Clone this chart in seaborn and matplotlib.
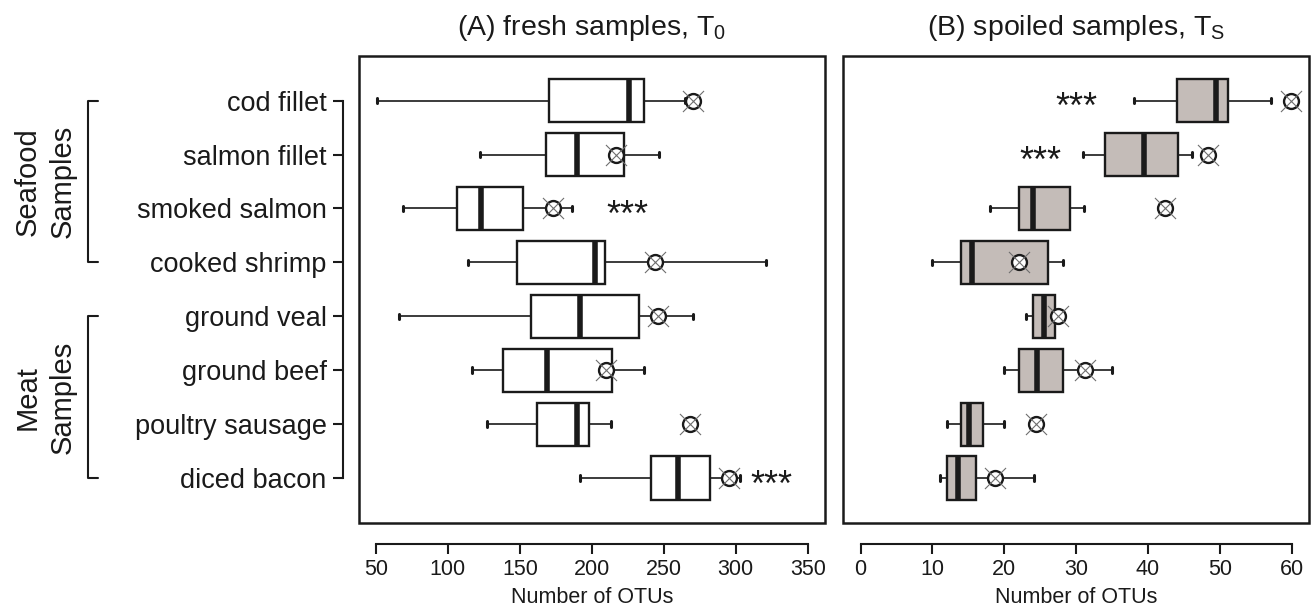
import numpy as np
import pandas as pd
import matplotlib
matplotlib.use("Agg")
import matplotlib.pyplot as plt
import matplotlib.transforms as mtransforms
from matplotlib.patches import Rectangle
import seaborn as sns

sns.set_theme(style="ticks")
plt.rcParams["font.family"] = ["Liberation Sans", "DejaVu Sans"]
plt.rcParams["mathtext.fontset"] = "custom"
plt.rcParams["mathtext.rm"] = "Liberation Sans"
plt.rcParams["mathtext.it"] = "Liberation Sans:italic"

# sample types, top to bottom
categories = ["cod fillet", "salmon fillet", "smoked salmon", "cooked shrimp",
              "ground veal", "ground beef", "poultry sausage", "diced bacon"]

# (A) fresh samples, T0 -- number of OTUs
fresh_low = [51, 122, 69, 114, 66, 117, 127, 192]
fresh_q1 = [170, 168, 106, 148, 158, 138, 162, 241]
fresh_med = [226, 190, 123, 202, 192, 169, 190, 260]
fresh_q3 = [236, 222, 152, 209, 233, 214, 198, 282]
fresh_high = [265, 247, 186, 321, 270, 236, 213, 303]
fresh_mean = [270, 217, 173, 244, 246, 210, 268, 295]
fresh_stars = {"smoked salmon": 225, "diced bacon": 325}

# (B) spoiled samples, Ts -- number of OTUs
spoiled_low = [38, 31, 18, 10, 23, 20, 12, 11]
spoiled_q1 = [44, 34, 22, 14, 24, 22, 14, 12]
spoiled_med = [49.4, 39.5, 24, 15.5, 25.5, 24.5, 15.1, 13.5]
spoiled_q3 = [51.1, 44.1, 29.1, 26.1, 27.1, 28.1, 17.1, 16.1]
spoiled_high = [57.1, 46.1, 31.1, 28.1, 27.1, 35, 20, 24.1]
spoiled_mean = [59.9, 48.3, 42.4, 22.1, 27.4, 31.2, 24.4, 18.7]
spoiled_stars = {"cod fillet": 30, "salmon fillet": 25}

ink = "#1a1a1a"


def five_point_frame(low, q1, med, q3, high):
    rows = []
    for i, cat in enumerate(categories):
        for v in (low[i], q1[i], med[i], q3[i], high[i]):
            rows.append({"sample": cat, "otus": v})
    return pd.DataFrame(rows)


def draw_panel(ax, df, means, stars, fill, xlim, xticks, title):
    sns.boxplot(data=df, x="otus", y="sample", order=categories, ax=ax,
                whis=(0, 100), width=0.8, color=fill, saturation=1,
                linecolor=ink, linewidth=1.7,
                medianprops={"linewidth": 4.0, "color": ink},
                whiskerprops={"linewidth": 1.2, "color": ink},
                capprops={"linewidth": 2.2, "color": ink},
                capwidths=0.1)
    pos = np.arange(len(categories))
    sns.scatterplot(x=means, y=pos, ax=ax, marker="o", s=115,
                    facecolor="white", edgecolor=ink, linewidth=1.7,
                    zorder=5, legend=False)
    sns.scatterplot(x=means, y=pos, ax=ax, marker="x", s=230,
                    color="#6e6e6e", linewidth=0.8, zorder=6, legend=False)
    for cat, xv in stars.items():
        ax.text(xv, categories.index(cat) + 0.15, "***", ha="center",
                va="center", fontsize=26, color=ink)

    ax.set_xlim(*xlim)
    ax.set_ylim(len(categories) - 1 + 0.83, -0.83)
    ax.set_xticks(xticks)
    ax.set_xlabel("Number of OTUs", fontsize=15.5, labelpad=5, color=ink)
    ax.set_ylabel("")
    ax.set_title(title, fontsize=20.5, pad=15, color=ink)

    for side in ("top", "right"):
        ax.spines[side].set_visible(False)
    ax.spines["bottom"].set_position(("outward", 15))
    ax.spines["bottom"].set_bounds(xticks[0], xticks[-1])
    ax.spines["bottom"].set_linewidth(1.5)
    ax.spines["bottom"].set_color(ink)
    ax.tick_params(axis="x", direction="out", length=7, width=1.5,
                   colors=ink, labelsize=15.5, pad=4)
    ax.add_patch(Rectangle((0, 0), 1, 1, transform=ax.transAxes, fill=False,
                           lw=1.8, edgecolor=ink, clip_on=False, zorder=10))


fig = plt.figure(figsize=(13.11, 6.07), dpi=100)
ax1 = fig.add_axes([0.2736, 0.1389, 0.3557, 0.7689])
ax2 = fig.add_axes([0.6433, 0.1389, 0.3552, 0.7689])

draw_panel(ax1, five_point_frame(fresh_low, fresh_q1, fresh_med, fresh_q3, fresh_high),
           fresh_mean, fresh_stars, "white", (38, 362), list(range(50, 351, 50)),
           r"(A) fresh samples, T$_\mathrm{0}$")
draw_panel(ax2, five_point_frame(spoiled_low, spoiled_q1, spoiled_med, spoiled_q3, spoiled_high),
           spoiled_mean, spoiled_stars, "#c4bcb8", (-2.4, 62.4), list(range(0, 61, 10)),
           r"(B) spoiled samples, T$_\mathrm{S}$")

# y axis only on the left panel, detached like the x axis
ax1.spines["left"].set_position(("outward", 11))
ax1.spines["left"].set_bounds(0, len(categories) - 1)
ax1.spines["left"].set_linewidth(1.5)
ax1.spines["left"].set_color(ink)
ax1.set_yticks(range(len(categories)))
ax1.set_yticklabels(categories)
ax1.tick_params(axis="y", direction="out", length=7, width=1.5,
                colors=ink, labelsize=19.5, pad=5)
ax2.spines["left"].set_visible(False)
ax2.tick_params(axis="y", left=False, labelleft=False)

# group brackets and labels
trans = mtransforms.blended_transform_factory(ax1.transAxes, ax1.transData)
groups = [("Seafood\nSamples", 0, 3), ("Meat\nSamples", 4, 7)]
for label, start, end in groups:
    ax1.plot([-0.558, -0.58, -0.58, -0.558], [start, start, end, end],
             transform=trans, color=ink, lw=1.5, clip_on=False)
    ax1.text(-0.672, (start + end) / 2, label, transform=trans, rotation=90,
             ha="center", va="center", multialignment="center",
             fontsize=21, color=ink, linespacing=1.3)

fig.savefig("out.png", dpi=100)
